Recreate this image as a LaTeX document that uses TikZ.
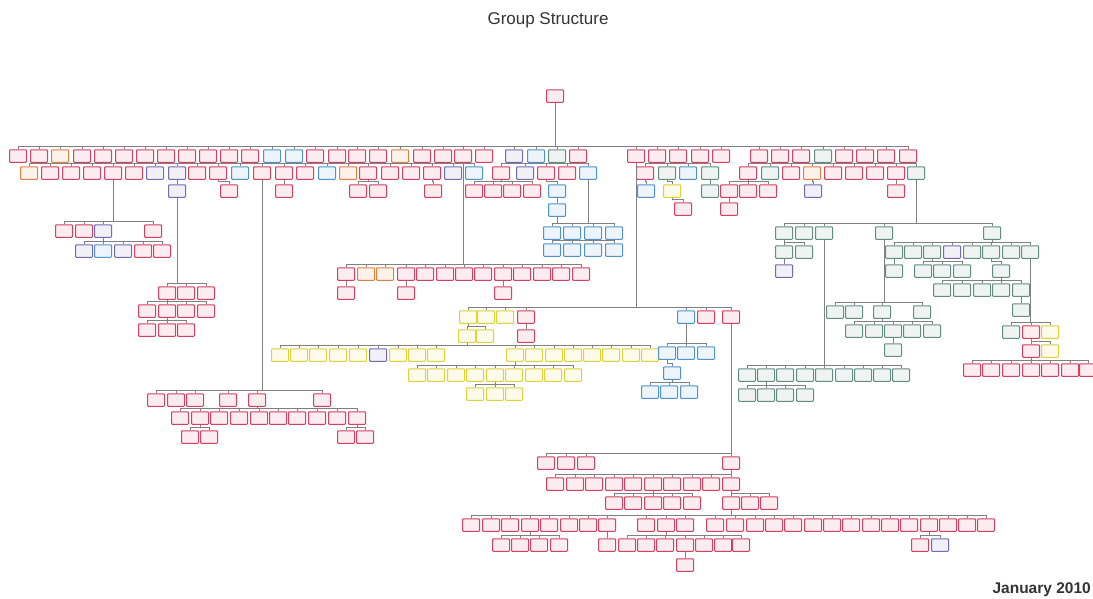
\documentclass[tikz,border=0pt]{standalone}
\usepackage{fontspec}
\setmainfont{Liberation Sans}
\usetikzlibrary{positioning}
\definecolor{orgr}{HTML}{D43F62}
\definecolor{orgb}{HTML}{4E93CF}
\definecolor{orgp}{HTML}{7469B3}
\definecolor{orgt}{HTML}{648D82}
\definecolor{orgy}{HTML}{DDD236}
\definecolor{orgo}{HTML}{E2803F}
\tikzset{
  org/.style = {draw, rounded corners=0.8pt, minimum width=17pt,
    minimum height=12.5pt, inner sep=0pt, line width=1pt},
  link/.style = {draw=black!50, line width=0.55pt}
}
% one row of boxes on a common bus
\newcommand{\orgrow}[3]{%
  \foreach \x/\col [count=\i] in {#3} {
    \node[org, draw=org\col, fill=org\col!10] (#1-\i) at (\x,#2) {};
    \draw[link] (#1-\i.north) -- ++(0,-3);
    \xdef\orglast{\i}
  }
  \coordinate (#1-bus) at ([yshift=3pt]#1-1.north);
  \draw[link] (#1-bus) -- ([yshift=3pt]#1-\orglast.north);
}
% parent box down to the bus of a row
\newcommand{\hang}[2]{\draw[link] (#1.south) |- (#2-bus);}

\begin{document}
\begin{tikzpicture}[x=1pt,y=-1pt]
\fill[white] (0,0) rectangle (1093,598);
\useasboundingbox (0,0) rectangle (1093,598);

\node[font=\fontsize{17}{20}\selectfont, text=black!80] (title) at (548,20) {Group Structure};
\node[font=\bfseries\fontsize{15.5}{18}\selectfont, text=black!80, anchor=east, inner sep=1pt] (date) at (1092,590) {January 2010};

\node[org, draw=orgr, fill=orgr!10] (root) at (555,96) {};

% first level
\orgrow{r1}{156}{18/r,39/r,60/o,82/r,103/r,124/r,145/r,166/r,187/r,208/r,229/r,250/r,272/b,294/b,315/r,337/r,357/r,378/r,400/o,422/r,443/r,463/r,484/r,514/p,536/b,557/t,578/r,636/r,657/r,678/r,700/r,721/r,759/r,780/r,801/r,823/t,844/r,865/r,886/r,908/r}
\hang{root}{r1}

% second level
\orgrow{r2a}{173}{29/o,50/r,71/r,92/r,113/r,134/r,155/p,177/p,197/r,218/r,240/b,262/r,284/r,305/r,327/b,348/o,368/r,390/r,411/r,432/r,453/p,474/b}
\orgrow{r2b}{173}{501/r,525/p,546/r,567/r,588/b}
\orgrow{r2c}{173}{645/r,667/t,688/b,710/t}
\orgrow{r2d}{173}{748/r,770/t,791/r,812/o,833/r,854/r,875/r,896/r,916/t}
\hang{r1-12}{r2a}
\hang{r1-25}{r2b}
\hang{r1-29}{r2c}
\hang{r1-35}{r2d}

% third level
\orgrow{r3a}{191}{177/p}
\orgrow{r3b}{191}{229/r}
\orgrow{r3c}{191}{284/r}
\orgrow{r3d}{191}{358/r,378/r}
\orgrow{r3e}{191}{433/r}
\orgrow{r3f}{191}{474/r,493/r,512/r,532/r}
\orgrow{r3g}{191}{557/b}
\orgrow{r3h}{191}{646/b}
\orgrow{r3i}{191}{672/y}
\orgrow{r3j}{191}{710/t}
\orgrow{r3k}{191}{729/r,748/r,768/r}
\orgrow{r3l}{191}{813/p}
\orgrow{r3m}{191}{896/r}
\hang{r2a-8}{r3a}
\hang{r2a-10}{r3b}
\hang{r2a-13}{r3c}
\hang{r2a-17}{r3d}
\hang{r2a-20}{r3e}
\hang{r2b-1}{r3f}
\hang{r2b-3}{r3g}
\hang{r2c-1}{r3h}
\hang{r2c-2}{r3i}
\hang{r2c-4}{r3j}
\hang{r2d-1}{r3k}
\hang{r2d-4}{r3l}
\hang{r2d-8}{r3m}
\orgrow{r4a}{210}{557/b}
\orgrow{r4b}{209}{683/r}
\orgrow{r4c}{209}{729/r}
\hang{r3g-1}{r4a}
\hang{r3i-1}{r4b}
\hang{r3k-1}{r4c}

% far left
\orgrow{A1}{231}{64/r,84/r,103/p,153/r}
\orgrow{A2}{251}{84/p,103/b,123/p,143/r,162/r}
\hang{r2a-5}{A1}
\hang{A1-3}{A2}
\orgrow{C1}{293}{167/r,186/r,206/r}
\orgrow{C2}{311}{147/r,167/r,186/r,206/r}
\orgrow{C3}{330}{147/r,167/r,186/r}
\hang{r3a-1}{C1}
\hang{C1-1}{C2}
\hang{C2-2}{C3}
\orgrow{D1}{400}{156/r,176/r,195/r,228/r,257/r,322/r}
\orgrow{D2}{418}{180/r,200/r,219/r,239/r,259/r,278/r,297/r,317/r,337/r,357/r}
\orgrow{D3}{437}{190/r,209/r}
\orgrow{D4}{437}{346/r,365/r}
\hang{r2a-12}{D1}
\hang{D1-5}{D2}
\hang{D2-2}{D3}
\hang{D2-10}{D4}

% centre
\orgrow{E1}{274}{346/r,366/o,385/o,406/r,425/r,445/r,464/r,483/r,503/r,522/r,542/r,561/r,581/r}
\hang{r1-22}{E1}
\orgrow{E2}{293}{346/r}
\orgrow{E3}{293}{406/r}
\orgrow{E4}{293}{503/r}
\hang{E1-1}{E2}
\hang{E1-4}{E3}
\hang{E1-9}{E4}
\orgrow{F1}{233}{552/b,572/b,593/b,614/b}
\orgrow{F2}{250}{552/b,572/b,593/b,614/b}
\hang{r4a-1}{F1}
\hang{r2b-5}{F1}
\hang{F1-2}{F2}

% yellow group
\orgrow{G1}{317}{468/y,486/y,505/y,526/r,686/b,706/r,731/r}
\hang{r1-28}{G1}
\orgrow{G2}{336}{467/y,485/y}
\orgrow{G2r}{336}{526/r}
\hang{G1-1}{G2}
\hang{G1-4}{G2r}
\orgrow{G3}{355}{280/y,299/y,318/y,338/y,358/y,378/p,398/y,417/y,436/y,515/y,534/y,554/y,573/y,592/y,611/y,631/y,650/y}
\hang{G2-1}{G3}
\orgrow{G4}{375}{417/y,436/y,456/y,475/y,495/y,514/y,534/y,553/y,573/y}
\hang{G3-10}{G4}
\orgrow{G5}{394}{475/y,495/y,514/y}
\hang{G4-5}{G5}
\orgrow{H1}{353}{667/b,686/b,706/b}
\hang{G1-5}{H1}
\orgrow{H2}{373}{672/b}
\hang{H1-1}{H2}
\orgrow{H3}{392}{650/b,669/b,689/b}
\hang{H2-1}{H3}

% bottom group
\orgrow{I1}{463}{546/r,566/r,586/r,731/r}
\hang{G1-7}{I1}
\orgrow{I2}{484}{555/r,575/r,594/r,614/r,633/r,653/r,672/r,692/r,711/r,731/r}
\hang{I1-4}{I2}
\orgrow{I3}{503}{614/r,633/r,653/r,672/r,692/r}
\orgrow{I3r}{503}{731/r,750/r,769/r}
\hang{I2-6}{I3}
\hang{I2-10}{I3r}
\orgrow{I4}{525}{471/r,491/r,510/r,530/r,549/r,569/r,588/r,607/r,646/r,666/r,685/r,715/r,735/r,755/r,774/r,793/r,813/r,832/r,851/r,871/r,890/r,909/r,929/r,948/r,967/r,986/r}
\hang{I3r-1}{I4}
\orgrow{I5a}{545}{501/r,520/r,539/r,559/r}
\orgrow{I5b}{545}{607/r}
\orgrow{I5c}{545}{627/r,646/r,665/r,685/r,704/r,723/r,741/r}
\orgrow{I5d}{545}{920/r,940/p}
\hang{I4-4}{I5a}
\hang{I4-8}{I5b}
\hang{I4-10}{I5c}
\hang{I4-23}{I5d}
\orgrow{I6}{565}{685/r}
\hang{I5c-4}{I6}

% right group
\orgrow{J1}{233}{784/t,804/t,824/t,884/t,992/t}
\hang{r2d-9}{J1}
\orgrow{J2}{252}{784/t,804/t}
\orgrow{J2r}{252}{894/t,913/t,932/t,952/p,972/t,991/t,1011/t,1030/t}
\hang{J1-1}{J2}
\hang{J1-5}{J2r}
\orgrow{J3}{271}{784/p}
\orgrow{J3b}{271}{894/t}
\orgrow{J3c}{271}{923/t,942/t,962/t}
\orgrow{J3d}{271}{1001/t}
\hang{J2-1}{J3}
\hang{J2r-1}{J3b}
\hang{J2r-3}{J3c}
\hang{J2r-6}{J3d}
\orgrow{J4}{290}{942/t,962/t,982/t,1001/t,1021/t}
\hang{J3d-1}{J4}
\orgrow{J5}{310}{1021/t}
\hang{J4-5}{J5}
\orgrow{J6}{312}{835/t,854/t,882/t,922/t}
\hang{J1-4}{J6}
\orgrow{J7}{331}{854/t,874/t,893/t,912/t,932/t}
\hang{J6-3}{J7}
\orgrow{J8}{350}{893/t}
\hang{J7-3}{J8}
\orgrow{J9}{332}{1011/t,1031/r,1050/y}
\hang{J2r-8}{J9}
\orgrow{J10}{351}{1031/r,1050/y}
\hang{J9-2}{J10}
\orgrow{J11}{370}{972/r,991/r,1011/r,1031/r,1050/r,1070/r,1088/r}
\hang{J10-1}{J11}
\orgrow{J12}{375}{747/t,766/t,785/t,805/t,824/t,844/t,863/t,882/t,901/t}
\hang{J1-3}{J12}
\orgrow{J13}{395}{747/t,766/t,785/t,805/t}
\hang{J12-2}{J13}
\end{tikzpicture}
\end{document}
